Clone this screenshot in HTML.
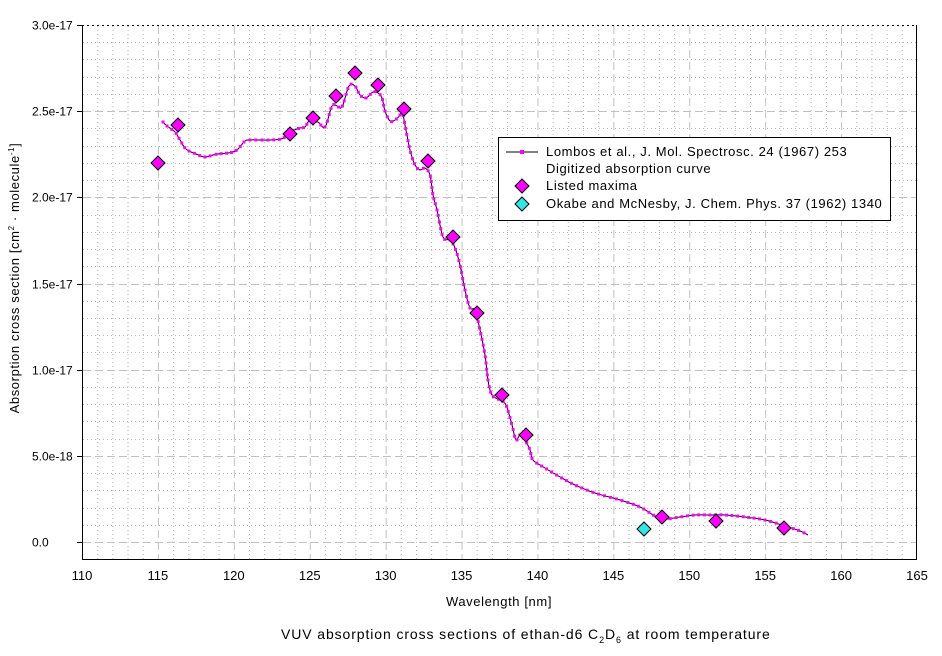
<!DOCTYPE html>
<html><head><meta charset="utf-8"><style>
body{margin:0;background:#fff;}
svg text{font-family:"Liberation Sans",Arial,sans-serif;fill:#000;}
</style></head><body>
<svg width="942" height="651" viewBox="0 0 942 651" xmlns="http://www.w3.org/2000/svg">
<rect width="942" height="651" fill="#fff"/>
<g id="minor" stroke="#b8b8b8" stroke-width="1" stroke-dasharray="1,3"></g>
<g id="major" stroke="#c0c0c0" stroke-width="1" stroke-dasharray="8,4"></g>
<line x1="82" y1="25.5" x2="917" y2="25.5" stroke="#000" stroke-dasharray="2,3"/>
<line x1="82.5" y1="25" x2="82.5" y2="559" stroke="#000"/>
<line x1="916.5" y1="25" x2="916.5" y2="559" stroke="#000"/>
<line x1="82" y1="559.5" x2="917" y2="559.5" stroke="#000"/>
<g id="ticks" stroke="#000"></g>
<g id="labels" font-size="12"></g>
<path id="curve" fill="none" stroke="#000" stroke-width="1"/>
<g id="dots" fill="#ff00ff"></g>
<g id="mk" stroke="#000" stroke-width="1"></g>
<rect x="498.5" y="137.5" width="392" height="83" fill="#fff" stroke="#000"/>
<line x1="506" y1="152" x2="538" y2="152" stroke="#000"/>
<rect x="520" y="150" width="4" height="4" fill="#ff00ff"/>
<polygon points="522,179 529,186 522,193 515,186" fill="#ff00ff" stroke="#000"/>
<polygon points="522,197 529,204 522,211 515,204" fill="#33e6e6" stroke="#000"/>
<g font-size="13" letter-spacing="0.6">
<text x="546" y="156">Lombos et al., J. Mol. Spectrosc. 24 (1967) 253</text>
<text x="546" y="173">Digitized absorption curve</text>
<text x="546" y="190">Listed maxima</text>
<text x="546" y="208">Okabe and McNesby, J. Chem. Phys. 37 (1962) 1340</text>
<text x="499" y="606" text-anchor="middle">Wavelength [nm]</text>
<text x="281" y="639" font-size="14" letter-spacing="0.9">VUV absorption cross sections of ethan-d6 C<tspan font-size="9" dy="4">2</tspan><tspan dy="-4">D</tspan><tspan font-size="9" dy="4">6</tspan><tspan dy="-4"> at room temperature</tspan></text>
<text transform="translate(19,278) rotate(-90)" text-anchor="middle">Absorption cross section [cm<tspan font-size="8" dy="-5">2</tspan><tspan dy="5"> · molecule</tspan><tspan font-size="8" dy="-5">-1</tspan><tspan dy="5">]</tspan></text>
</g>
</svg>
<script>
const NS="http://www.w3.org/2000/svg";
function el(p,t,a){const e=document.createElementNS(NS,t);for(const k in a)e.setAttribute(k,a[k]);document.getElementById(p).appendChild(e);return e;}
const X=v=>82+(v-110)*835/55, Y=v=>542-v*517/30;
for(let i=111;i<165;i++){if(i%5)el('minor','line',{x1:X(i)+.5,x2:X(i)+.5,y1:26,y2:559});}
for(let j=-3;j<=29;j++){if(j%5){const y=Math.round(Y(j))+.5;if(y>26&&y<559)el('minor','line',{x1:83,x2:916,y1:y,y2:y});}}
for(let i=115;i<165;i+=5)el('major','line',{x1:X(i)+.5,x2:X(i)+.5,y1:26,y2:559});
for(let j=0;j<30;j+=5){const y=Math.round(Y(j))+.5;el('major','line',{x1:83,x2:916,y1:y,y2:y});}
const yl=["0.0","5.0e-18","1.0e-17","1.5e-17","2.0e-17","2.5e-17","3.0e-17"];
for(let k=0;k<7;k++){const y=Math.round(Y(k*5))+.5;el('ticks','line',{x1:77,x2:82,y1:y,y2:y});
const t=el('labels','text',{x:32,y:y+4});t.textContent=yl[k];}
for(let i=110;i<=165;i+=5){const t=el('labels','text',{x:X(i),y:580,'text-anchor':'middle','font-size':'13'});t.textContent=i;}
const P=[[163,122],[167,126],[175,132],[180,140],[186,149],[196,154],[205,157],[213,155],[218,154],[228,153],[233,152],[238,149],[245,141],[250,140],[260,140],[270,140],[281,139],[288,135],[292,131],[300,128],[305,127],[310,120],[318,122],[325,127],[332,106],[337,106],[342,107],[349,86],[355,86],[360,95],[366,98],[373,92],[378,93],[382,98],[385,111],[390,121],[395,120],[400,115],[402,110],[405,125],[410,150],[415,165],[420,170],[425,168],[430,175],[433,195],[437,210],[443,237],[450,240],[455,248],[460,265],[465,290],[470,308],[475,310],[480,330],[485,355],[488,380],[492,395],[500,400],[506,405],[512,425],[516,440],[520,435],[525,440],[530,450],[533,460],[545,468],[560,477],[575,485],[595,493],[620,500],[640,507],[655,516],[665,519],[680,517],[695,515],[710,515],[725,515],[745,517],[765,520],[785,526],[800,531],[808,535]];
// Catmull-Rom smoothing
const S=[];
for(let i=0;i<P.length-1;i++){const p0=P[Math.max(0,i-1)],p1=P[i],p2=P[i+1],p3=P[Math.min(P.length-1,i+2)];
const n=Math.max(2,Math.ceil(Math.hypot(p2[0]-p1[0],p2[1]-p1[1])/2));
for(let k=0;k<n;k++){const t=k/n,t2=t*t,t3=t2*t;
S.push([0,1].map(j=>0.5*(2*p1[j]+(-p0[j]+p2[j])*t+(2*p0[j]-5*p1[j]+4*p2[j]-p3[j])*t2+(-p0[j]+3*p1[j]-3*p2[j]+p3[j])*t3)));}}
S.push(P[P.length-1]);
document.getElementById('curve').setAttribute('d','M'+S.map(p=>p[0].toFixed(1)+','+p[1].toFixed(1)).join(' L'));
let acc=99,last=null;
S.forEach(p=>{if(last)acc+=Math.hypot(p[0]-last[0],p[1]-last[1]);last=p;if(acc>=5){acc=0;el('dots','rect',{x:p[0]-1.5,y:p[1]-1.5,width:3,height:3});}});
const M=[[158,163],[178,125],[290,134],[313,118],[336,96],[355,73],[378,85],[404,109],[428,161],[453,237],[477,313],[502,395],[526,435],[662,517],[716,521],[784,528]];
const d=(x,y,c)=>el('mk','polygon',{points:`${x},${y-7} ${x+7},${y} ${x},${y+7} ${x-7},${y}`,fill:c});
M.forEach(p=>d(p[0],p[1],'#ff00ff'));d(644,529,'#33e6e6');
</script>
</body></html>
